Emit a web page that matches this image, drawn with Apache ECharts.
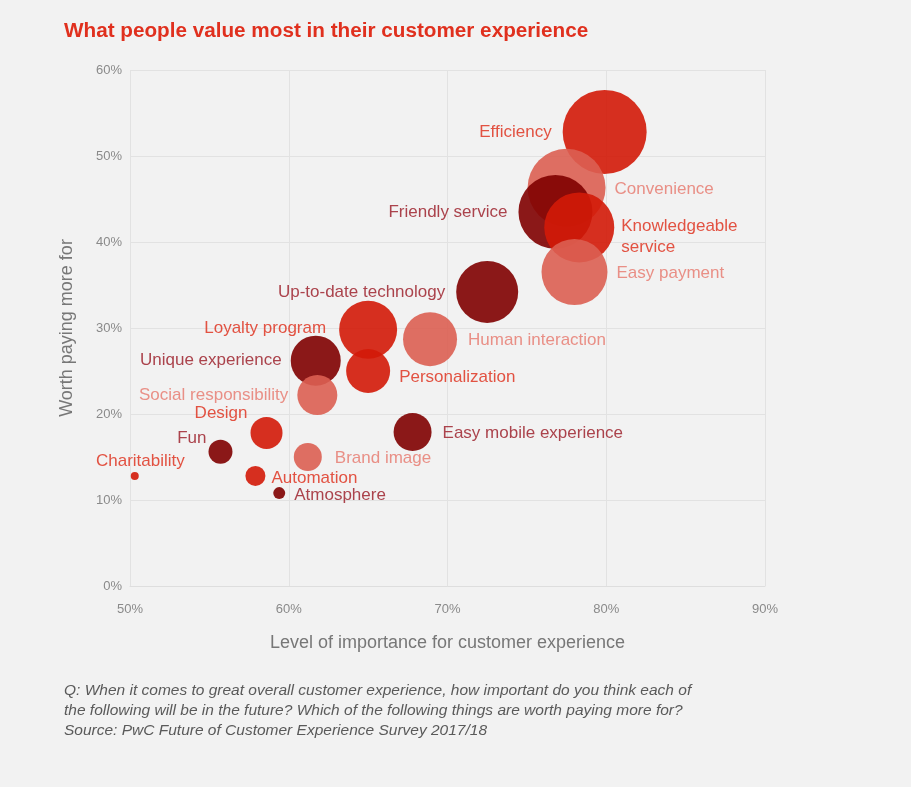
<!DOCTYPE html>
<html><head><meta charset="utf-8">
<script src="https://cdn.jsdelivr.net/npm/echarts@6/dist/echarts.min.js"></script>
<style>html,body{margin:0;padding:0;background:#f2f2f2;}#c{width:911px;height:787px;}</style>
</head><body><div id="c"></div>
<script>
const names = ["Efficiency","Convenience","Friendly service","Knowledgeable\nservice","Easy payment","Up-to-date technology","Human interaction","Loyalty program","Personalization","Unique experience","Social responsibility","Design","Easy mobile experience","Brand image","Fun","Automation","Atmosphere","Charitability"];
const importance = [79.9,77.5,76.8,78.3,78.0,72.5,68.9,65.0,65.0,61.7,61.8,58.6,67.8,61.2,55.7,57.9,59.4,50.3];
const worthPaying = [52.8,46.3,43.5,41.7,36.5,34.2,28.7,29.8,25.0,26.2,22.2,17.8,17.9,15.0,15.6,12.8,10.8,12.8];
const bubbleValue = [42,39,37,35,33,31,27,29,22,25,20,16,19,14,12,10,6,4];
const group = ["red","salmon","dark","red","salmon","dark","salmon","red","red","dark","salmon","red","dark","salmon","dark","red","dark","red"];
const xTicks = ["50%","60%","70%","80%","90%"];
const yTicks = ["0%","10%","20%","30%","40%","50%","60%"];

const fill = {red:'#d31a08', salmon:'#dc5f52', dark:'#800000'};
const textCol = {red:'#e0402f', salmon:'#e8847a', dark:'#a3303a'};
const labelCfg = {
  "Efficiency":['left',11,[0,0]],
  "Convenience":['right',9,[0,1]],
  "Friendly service":['left',11,[0,0]],
  "Knowledgeable\nservice":['right',7,[0,9]],
  "Easy payment":['right',9,[0,1]],
  "Up-to-date technology":['left',11,[0,0]],
  "Human interaction":['right',11,[0,1]],
  "Loyalty program":['left',13,[0,-1]],
  "Personalization":['right',9,[0,6]],
  "Unique experience":['left',9,[0,0]],
  "Social responsibility":['left',9,[0,0]],
  "Design":['left',0,[-3,-20]],
  "Easy mobile experience":['right',11,[0,1]],
  "Brand image":['right',13,[0,1]],
  "Fun":['left',0,[-2,-14]],
  "Automation":['right',6,[0,2]],
  "Atmosphere":['right',9,[0,2]],
  "Charitability":['left',0,[54,-15]]
};

function labelFor(n, g){
  const c = labelCfg[n];
  return {show:true, formatter:'{b}', color:textCol[g], fontSize:17,
    fontFamily:'Liberation Sans, Arial, sans-serif', lineHeight:21,
    position:c[0], distance:c[1], offset:c[2]};
}

const data = names.map((n,i)=>({
  name:n,
  value:[importance[i], worthPaying[i], bubbleValue[i]],
  itemStyle:{color:fill[group[i]], opacity:0.9},
  label:labelFor(n, group[i])
}));

const chart = echarts.init(document.getElementById('c'));
chart.setOption({
  backgroundColor:'#f2f2f2',
  animation:false,
  title:{text:'What people value most in their customer experience', left:59, top:16,
    textStyle:{color:'#e0301e', fontSize:20.7, fontWeight:'bold', fontFamily:'Liberation Sans, Arial, sans-serif'}},
  grid:{left:130, right:146, top:70, bottom:201},
  xAxis:{type:'value', min:50, max:90, interval:10,
    name:'Level of importance for customer experience', nameLocation:'middle', nameGap:48,
    nameTextStyle:{color:'#777', fontSize:18, fontFamily:'Liberation Sans, sans-serif'},
    axisLine:{show:true, lineStyle:{color:'#dedede'}}, axisTick:{show:false},
    axisLabel:{color:'#8a8a8a', fontSize:13, margin:17, fontFamily:'Liberation Sans, sans-serif', formatter:(v)=>xTicks[(v-50)/10]},
    splitLine:{show:true, lineStyle:{color:'#e2e2e2'}}},
  yAxis:{type:'value', min:0, max:60, interval:10,
    name:'Worth paying more for', nameLocation:'middle', nameGap:54,
    nameTextStyle:{color:'#777', fontSize:18, fontFamily:'Liberation Sans, sans-serif'},
    axisLine:{show:false}, axisTick:{show:false},
    axisLabel:{color:'#8a8a8a', fontSize:13, margin:8, fontFamily:'Liberation Sans, sans-serif', formatter:(v)=>yTicks[v/10]},
    splitLine:{show:true, lineStyle:{color:'#e2e2e2'}}},
  graphic:[{type:'text', left:64, top:681, style:{
    text:'Q: When it comes to great overall customer experience, how important do you think each of\nthe following will be in the future? Which of the following things are worth paying more for?\nSource: PwC Future of Customer Experience Survey 2017/18',
    fill:'#5a5a5a', fontSize:15.5, fontStyle:'italic', lineHeight:20,
    fontFamily:'Liberation Sans, sans-serif'}}],
  series:[{type:'scatter', data:data, symbolSize:(v)=>v[2]*2,
    emphasis:{disabled:true}}]
});
</script></body></html>
